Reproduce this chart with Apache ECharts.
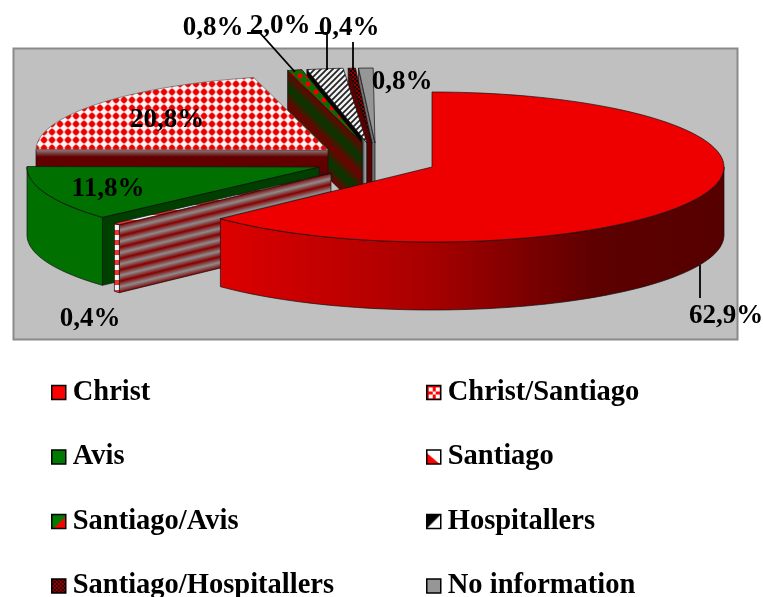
<!DOCTYPE html>
<html>
<head>
<meta charset="utf-8">
<title>Orders</title>
<style>
html, body { margin: 0; padding: 0; background: #fff; }
#chart { width: 763px; height: 597px; }
</style>
<script src="https://cdn.jsdelivr.net/npm/echarts@6/dist/echarts.min.js"></script>
</head>
<body>
<div id="chart"></div>
<script>
// slices, clockwise from twelve o'clock
var categories = ['Christ', 'Santiago', 'Avis', 'Christ/Santiago', 'Santiago/Avis', 'Hospitallers', 'Santiago/Hospitallers', 'No information'];
var shares = [62.9, 0.4, 11.8, 20.8, 0.8, 2.0, 0.4, 0.8];
var legendLeft = ['Christ', 'Avis', 'Santiago/Avis', 'Santiago/Hospitallers'];
var legendRight = ['Christ/Santiago', 'Santiago', 'Hospitallers', 'No information'];

// pie layout
var pieX = 432, pieY = 167, radiusX = 292, radiusY = 75, depth = 68;
var explodeX = [0, -101, -113, -104, -70, -65, -60, -57];
var explodeY = [0, 6, 0, -17, -24, -24, -24, -24];
var labelX = [726, 90, 108, 167, 213, 280, 349, 402];
var labelY = [316, 319, 189, 120, 28, 26, 28, 82];
var leaders = [
    [[700, 265], [700, 298]],
    null, null, null,
    [[247, 33], [260, 33], [295, 72]],
    [[315, 33], [327, 33], [327, 70]],
    [[353, 42], [353, 70]],
    null
];
var labelFont = 'bold 27px "Liberation Serif"';

function tile(w, h, draw) {
    var c = document.createElement('canvas');
    c.width = w;
    c.height = h;
    draw(c.getContext('2d'), w, h);
    return { image: c, repeat: 'repeat' };
}
function dot(g, x, y, r, color) {
    g.fillStyle = color;
    g.beginPath();
    g.arc(x, y, r, 0, Math.PI * 2);
    g.fill();
}

var checkFill = tile(8, 8, function (g, w, h) {
    g.fillStyle = '#f4f4f4';
    g.fillRect(0, 0, w, h);
    g.fillStyle = '#f99';
    g.fillRect(0, 3, 8, 2);
    g.fillRect(3, 0, 2, 8);
    dot(g, 4, 4, 2.9, '#ee0000');
});
var greenDots = tile(8, 8, function (g, w, h) {
    g.fillStyle = '#007000';
    g.fillRect(0, 0, w, h);
    dot(g, 4, 4, 2.7, '#ee0000');
});
var hatch = tile(6, 6, function (g, w, h) {
    g.fillStyle = '#f2f2f2';
    g.fillRect(0, 0, w, h);
    g.strokeStyle = '#222';
    g.lineWidth = 1.7;
    g.beginPath();
    g.moveTo(-2, 8); g.lineTo(8, -2);
    g.moveTo(-2, 2); g.lineTo(2, -2);
    g.moveTo(4, 8); g.lineTo(8, 4);
    g.stroke();
});
var darkCheck = tile(4, 4, function (g) {
    g.fillStyle = '#8a0000';
    g.fillRect(0, 0, 4, 4);
    g.fillStyle = '#200000';
    g.fillRect(0, 0, 2, 2);
    g.fillRect(2, 2, 2, 2);
});
var santiagoRim = tile(4, 10, function (g) {
    g.fillStyle = '#f4f4f4';
    g.fillRect(0, 0, 4, 10);
    g.fillStyle = '#ee3030';
    g.fillRect(0, 0, 4, 5);
});

var topFill = ['#ee0000', santiagoRim, '#007000', checkFill, greenDots, hatch, darkCheck, '#969696'];

var angles = [];
(function () {
    var run = 0;
    for (var i = 0; i < shares.length; i++) {
        angles.push([run / 100 * 360, (run + shares[i]) / 100 * 360]);
        run += shares[i];
    }
})();

function point(i, deg, drop) {
    var t = deg * Math.PI / 180;
    return [
        pieX + explodeX[i] + radiusX * Math.sin(t),
        pieY + explodeY[i] - radiusY * Math.cos(t) + drop
    ];
}
function arc(i, from, to, drop) {
    var pts = [], steps = Math.max(2, Math.ceil(Math.abs(to - from) / 2));
    for (var k = 0; k <= steps; k++) {
        pts.push(point(i, from + (to - from) * k / steps, drop));
    }
    return pts;
}
function apex(i, drop) {
    return [pieX + explodeX[i], pieY + explodeY[i] + drop];
}

// stripes run along the cut edge and repeat towards the bottom of the wall
function stripes(i, colorA, colorB, count) {
    var a = point(i, angles[i][0], 0), b = apex(i, 0);
    var dx = b[0] - a[0], dy = b[1] - a[1], len = Math.sqrt(dx * dx + dy * dy);
    var nx = -dy / len, ny = dx / len;
    var span = depth * Math.abs(ny);
    var stops = [];
    for (var k = 0; k <= count * 2; k++) {
        stops.push({ offset: k / (count * 2), color: k % 2 ? colorB : colorA });
    }
    return new echarts.graphic.LinearGradient(a[0], a[1], a[0] + nx * span, a[1] + ny * span, stops, true);
}
function wallFill(i) {
    if (i === 1) return stripes(i, '#860000', '#8c8c8c', 6);
    if (i === 2) return '#003f00';
    if (i === 3) {
        return new echarts.graphic.LinearGradient(0, 150, 0, 218, [
            { offset: 0, color: '#8c7c7c' },
            { offset: 0.1, color: '#640000' },
            { offset: 1, color: '#500000' }
        ], true);
    }
    if (i === 4) return stripes(i, '#700000', '#003a00', 2);
    if (i === 5) {
        return new echarts.graphic.LinearGradient(300, 0, 368, 0, [
            { offset: 0, color: '#050505' }, { offset: 0.9, color: '#050505' },
            { offset: 0.93, color: '#555' }, { offset: 0.96, color: '#a8a8a8' },
            { offset: 0.985, color: '#444' }, { offset: 1, color: '#000' }
        ], true);
    }
    if (i === 6) return '#5a0000';
    if (i === 7) return '#707070';
    return '#600000';
}
function rimFill(i) {
    if (i === 0) {
        return new echarts.graphic.LinearGradient(221, 0, 724, 0, [
            { offset: 0, color: '#dc0000' },
            { offset: 0.4, color: '#aa0000' },
            { offset: 0.75, color: '#5c0000' },
            { offset: 1, color: '#560000' }
        ], true);
    }
    if (i === 1) return santiagoRim;
    return '#007000';
}

function renderSlice(params, api) {
    // series are stacked back to front, see below
    var i = categories.length - 1 - params.seriesIndex;
    var from = angles[i][0], to = angles[i][1];
    var kids = [];

    if (i > 0) {
        kids.push({
            type: 'polygon',
            shape: { points: [point(i, from, 0), apex(i, 0), apex(i, depth), point(i, from, depth)] },
            style: { fill: wallFill(i), stroke: '#111', lineWidth: 0.7 }
        });
    }
    var rimFrom = Math.max(from, 90), rimTo = Math.min(to, 270);
    if (rimTo > rimFrom) {
        var rim = arc(i, rimFrom, rimTo, 0).concat(arc(i, rimTo, rimFrom, depth));
        kids.push({
            type: 'polygon',
            shape: { points: rim },
            style: { fill: rimFill(i), stroke: '#111', lineWidth: 0.7 }
        });
    }
    kids.push({
        type: 'polygon',
        shape: { points: [apex(i, 0)].concat(arc(i, from, to, 0)) },
        style: { fill: topFill[i], stroke: i === 3 ? '#666' : '#111', lineWidth: 0.7 }
    });
    if (leaders[i]) {
        kids.push({
            type: 'polyline',
            shape: { points: leaders[i] },
            style: { fill: 'none', stroke: '#000', lineWidth: 1.8 }
        });
    }
    kids.push({
        type: 'text',
        style: {
            x: labelX[i],
            y: labelY[i],
            text: api.value(0).toFixed(1).replace('.', ',') + '%',
            font: labelFont,
            fill: '#000',
            align: 'center',
            verticalAlign: 'middle'
        }
    });
    return { type: 'group', children: kids };
}

// legend swatches are small pictures, not tiled
function swatch(draw) {
    return tile(14, 14, draw);
}
var swatches = {
    'Christ': '#ff0000',
    'Avis': '#007a00',
    'No information': '#969696',
    'Christ/Santiago': swatch(function (g) {
        g.fillStyle = '#f00';
        g.fillRect(0, 0, 14, 14);
        g.fillStyle = '#fff';
        g.fillRect(2, 2, 4, 4); g.fillRect(9, 2, 4, 4);
        g.fillRect(2, 9, 4, 4); g.fillRect(9, 9, 4, 4);
        g.fillRect(6, 6, 3, 3);
    }),
    'Santiago': swatch(function (g) {
        g.fillStyle = '#fff';
        g.fillRect(0, 0, 14, 14);
        g.fillStyle = '#f00';
        g.beginPath(); g.moveTo(0, 3); g.lineTo(13, 14); g.lineTo(0, 14); g.fill();
    }),
    'Santiago/Avis': swatch(function (g) {
        g.fillStyle = '#007a00';
        g.fillRect(0, 0, 14, 14);
        g.fillStyle = '#f00';
        g.beginPath(); g.moveTo(14, 2); g.lineTo(14, 14); g.lineTo(2, 14); g.fill();
    }),
    'Hospitallers': swatch(function (g) {
        g.fillStyle = '#fff';
        g.fillRect(0, 0, 14, 14);
        g.fillStyle = '#000';
        g.beginPath(); g.moveTo(14, 0); g.lineTo(0, 14); g.lineTo(0, 0); g.fill();
    }),
    'Santiago/Hospitallers': swatch(function (g) {
        g.fillStyle = '#a00000';
        g.fillRect(0, 0, 14, 14);
        g.fillStyle = '#200000';
        for (var y = 0; y < 14; y += 2) {
            for (var x = y % 4 ? 2 : 0; x < 14; x += 4) g.fillRect(x, y, 2, 2);
        }
    })
};

function legendItems(names) {
    return names.map(function (n) {
        return { name: n, itemStyle: { color: swatches[n], borderColor: '#000', borderWidth: 1.5 } };
    });
}
function legendBlock(left, names) {
    return {
        left: left,
        top: 378,
        height: 280,
        orient: 'vertical',
        padding: 0,
        itemGap: 35.5,
        itemWidth: 14,
        itemHeight: 14,
        icon: 'rect',
        selectedMode: false,
        data: legendItems(names),
        textStyle: {
            fontFamily: 'Liberation Serif',
            fontWeight: 'bold',
            fontSize: 28.5,
            color: '#000',
            padding: [0, 0, 0, 2]
        }
    };
}

var series = [];
for (var i = categories.length - 1; i >= 0; i--) {
    series.push({
        type: 'custom',
        name: categories[i],
        coordinateSystem: 'none',
        silent: true,
        animation: false,
        data: [shares[i]],
        renderItem: renderSlice
    });
}

var myChart = echarts.init(document.getElementById('chart'));
myChart.setOption({
    animation: false,
    backgroundColor: '#fff',
    legend: [legendBlock(51, legendLeft), legendBlock(426, legendRight)],
    graphic: [{
        type: 'rect',
        z: 0,
        silent: true,
        shape: { x: 13.5, y: 48.5, width: 724, height: 291 },
        style: { fill: '#c0c0c0', stroke: '#8a8a8a', lineWidth: 2 }
    }],
    series: series
});
</script>
</body>
</html>
